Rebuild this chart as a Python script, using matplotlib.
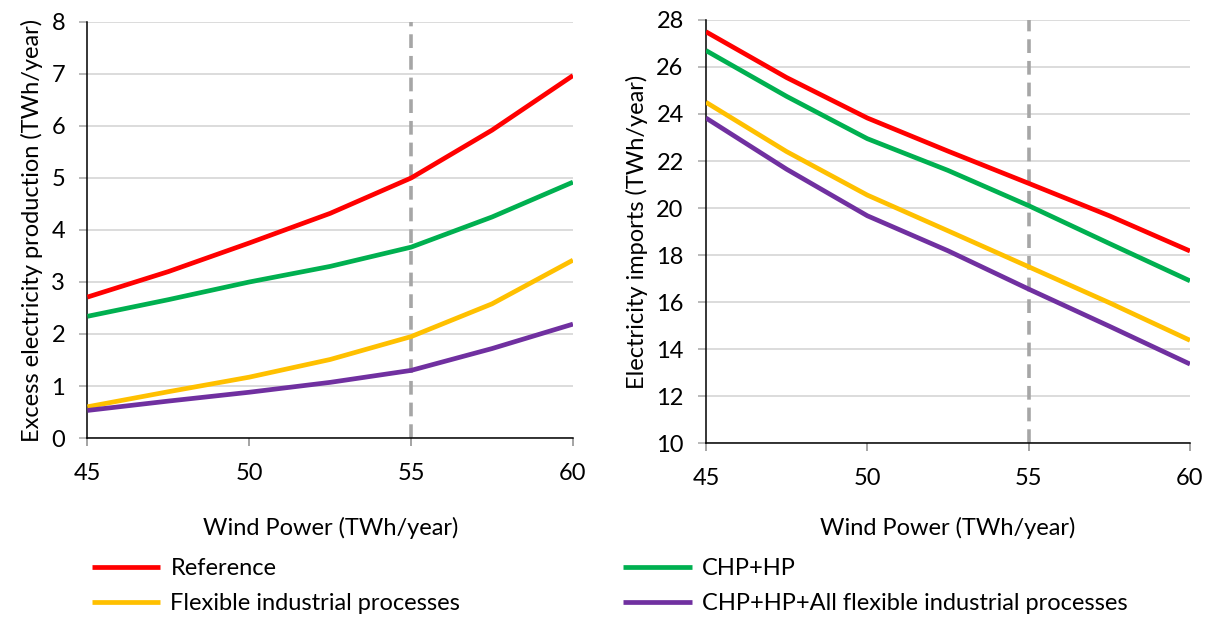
import matplotlib.pyplot as plt

plt.rcParams['font.family'] = ['Lato', 'DejaVu Sans']

wind = [45, 47.5, 50, 52.5, 55, 57.5, 60]

# Excess electricity production (TWh/year)
excess_ref = [2.71, 3.20, 3.75, 4.32, 5.00, 5.92, 6.97]
excess_chp = [2.34, 2.66, 3.00, 3.30, 3.67, 4.25, 4.92]
excess_flex = [0.60, 0.89, 1.17, 1.51, 1.95, 2.58, 3.42]
excess_all = [0.53, 0.71, 0.88, 1.07, 1.30, 1.72, 2.19]

# Electricity imports (TWh/year)
imp_ref = [27.5, 25.55, 23.83, 22.42, 21.05, 19.67, 18.17]
imp_chp = [26.7, 24.75, 22.95, 21.6, 20.1, 18.49, 16.9]
imp_flex = [24.5, 22.4, 20.55, 19.03, 17.5, 15.97, 14.37]
imp_all = [23.83, 21.65, 19.67, 18.18, 16.55, 14.97, 13.36]

labels = ["Reference", "Flexible industrial processes", "CHP+HP",
          "CHP+HP+All flexible industrial processes"]
colors = ["#ff0000", "#ffc000", "#00b050", "#7030a0"]

fs = 17

fig = plt.figure(figsize=(12.18, 6.19), dpi=100)
ax1 = fig.add_axes([0.0718, 0.2924, 0.3986, 0.6721])
ax2 = fig.add_axes([0.5796, 0.2843, 0.3974, 0.6834])

left_series = [excess_ref, excess_flex, excess_chp, excess_all]
right_series = [imp_ref, imp_flex, imp_chp, imp_all]

for ax, series in [(ax1, left_series), (ax2, right_series)]:
    for ys, c, lab in zip(series, colors, labels):
        ax.plot(wind, ys, color=c, lw=3.4, label=lab, zorder=3,
                solid_capstyle='butt', solid_joinstyle='round')
    ax.axvline(55, color="#a6a6a6", lw=2.6, ls=(0, (3.8, 2.2)), zorder=2,
               clip_on=False)
    ax.set_xlim(45, 60)
    ax.set_xticks([45, 50, 55, 60])
    ax.grid(axis='y', color="#d9d9d9", lw=1.3, zorder=0)
    ax.set_axisbelow(True)
    for s in ['top', 'right']:
        ax.spines[s].set_visible(False)
    ax.spines['left'].set_linewidth(1.1)
    ax.spines['bottom'].set_linewidth(1.1)
    ax.tick_params(axis='x', direction='out', length=6, width=1.1, pad=12,
                   labelsize=fs, color="#8c8c8c")
    ax.tick_params(axis='y', direction='out', length=6, width=1.1, pad=10,
                   labelsize=fs, color="#a6a6a6")

ax1.set_xlabel("Wind Power (TWh/year)", fontsize=fs, labelpad=24)
ax2.set_xlabel("Wind Power (TWh/year)", fontsize=fs, labelpad=20)

ax1.set_ylim(0, 8)
ax1.set_yticks(range(0, 9))
ax1.set_ylabel("Excess electricity production (TWh/year)", fontsize=fs,
               labelpad=6)
ax2.set_ylim(10, 28)
ax2.set_yticks(range(10, 29, 2))
ax2.set_ylabel("Electricity imports (TWh/year)", fontsize=fs, labelpad=6)

handles, labs = ax1.get_legend_handles_labels()
fig.legend(handles, labs, ncol=2, loc='upper left',
           bbox_to_anchor=(92 / 1218, 1 - 558 / 619), frameon=False,
           fontsize=fs, handlelength=2.9, handletextpad=0.42,
           columnspacing=6.9, labelspacing=0.6, borderpad=0,
           borderaxespad=0)

fig.savefig("out.png", dpi=100)
